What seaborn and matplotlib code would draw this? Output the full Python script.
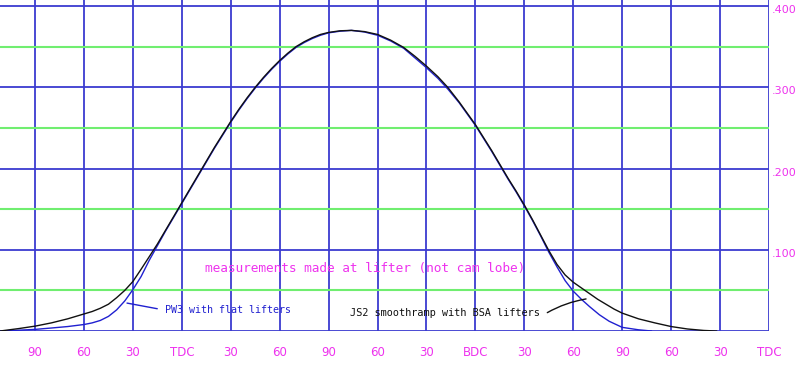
import matplotlib
matplotlib.use("Agg")
import matplotlib.pyplot as plt
import matplotlib.transforms as mtransforms
import seaborn as sns
import pandas as pd

# crank degrees (0 = first TDC) and lift in inches
js2_deg = [-111.5, -100, -90, -80, -70, -60, -55, -50, -45, -40, -35, -30, -25, -19.5,
           -15, -10, -5, 0, 5, 10, 15, 20, 25, 30, 35, 40, 45, 50, 55, 60, 65, 70, 75,
           80, 85, 90, 97, 104, 112, 120, 128, 136, 143, 150, 157, 163, 170, 180, 190,
           200, 205, 210, 215, 220, 225, 230, 235, 240, 245, 250, 255, 260, 265, 270,
           280, 290, 300, 310, 320, 328]
js2_lift = [0.000, 0.003, 0.006, 0.010, 0.015, 0.021, 0.024, 0.028, 0.033, 0.041, 0.050,
            0.061, 0.076, 0.093, 0.107, 0.124, 0.141, 0.158, 0.175, 0.192, 0.209, 0.226,
            0.242, 0.258, 0.273, 0.287, 0.300, 0.312, 0.323, 0.333, 0.342, 0.350, 0.356,
            0.361, 0.365, 0.3675, 0.3695, 0.370, 0.3685, 0.365, 0.358, 0.349, 0.338,
            0.326, 0.313, 0.300, 0.282, 0.254, 0.222, 0.188, 0.172, 0.155, 0.137, 0.118,
            0.099, 0.082, 0.069, 0.060, 0.053, 0.046, 0.039, 0.033, 0.027, 0.022, 0.015,
            0.010, 0.0055, 0.0025, 0.0007, 0.000]

pw3_deg = [-111.5, -100, -90, -80, -70, -60, -55, -50, -45, -40, -35, -30, -25, -20,
           -15, -10, -5, 0, 5, 10, 15, 20, 25, 30, 35, 40, 45, 50, 55, 60, 65, 70, 75,
           80, 85, 90, 97, 104, 112, 120, 128, 136, 143, 150, 157, 163, 170, 180, 190,
           200, 205, 210, 215, 220, 225, 230, 235, 240, 245, 250, 256, 262, 270, 280, 288]
pw3_lift = [0.000, 0.001, 0.002, 0.0037, 0.0055, 0.008, 0.010, 0.013, 0.018, 0.026, 0.037,
            0.051, 0.067, 0.087, 0.105, 0.123, 0.140, 0.157, 0.174, 0.191, 0.208, 0.225,
            0.241, 0.257, 0.272, 0.286, 0.299, 0.311, 0.322, 0.332, 0.341, 0.349, 0.355,
            0.360, 0.364, 0.367, 0.369, 0.370, 0.368, 0.364, 0.357, 0.348, 0.336,
            0.324, 0.311, 0.298, 0.281, 0.253, 0.221, 0.187, 0.171, 0.154, 0.136, 0.117,
            0.097, 0.079, 0.062, 0.049, 0.039, 0.030, 0.020, 0.012, 0.0045, 0.0015, 0.000]

x_ticks = [-90, -60, -30, 0, 30, 60, 90, 120, 150, 180, 210, 240, 270, 300, 330, 360]
x_labels = ["90", "60", "30", "TDC", "30", "60", "90", "60", "30", "BDC",
            "30", "60", "90", "60", "30", "TDC"]
y_major = [0.0, 0.1, 0.2, 0.3, 0.4]
y_minor = [0.05, 0.15, 0.25, 0.35]
y_labels = ["", ".100", ".200", ".300", ".400"]

sns.set_style("white")
plt.rcParams["font.family"] = ["DejaVu Sans"]

MAG = "#ee33ee"
GRIDBLUE = "#3c3cd0"
GREEN = "#70ee70"
CURVEBLUE = "#2020d0"

fig = plt.figure(figsize=(8, 3.68), dpi=100)
ax = fig.add_axes([0, 0.1005, 0.96125, 0.8995])

for v in x_ticks:
    ax.axvline(v, color=GRIDBLUE, lw=1.3, zorder=1)
for h in y_major:
    ax.axhline(h, color=GRIDBLUE, lw=1.3, zorder=1)
for h in y_minor:
    ax.axhline(h, color=GREEN, lw=1.5, zorder=1)

df_js2 = pd.DataFrame({"deg": js2_deg, "lift": js2_lift})
df_pw3 = pd.DataFrame({"deg": pw3_deg, "lift": pw3_lift})
sns.lineplot(data=df_pw3, x="deg", y="lift", color=CURVEBLUE, lw=1.0, ax=ax, zorder=3,
             sort=False)
sns.lineplot(data=df_js2, x="deg", y="lift", color="#111111", lw=1.0, ax=ax, zorder=4,
             sort=False)

ax.set_xlim(-111.5, 360)
ax.set_ylim(0, 0.4074)
for s in ax.spines.values():
    s.set_visible(False)

ax.set_xticks(x_ticks)
ax.set_xticklabels(x_labels)
ax.tick_params(axis="x", length=0, pad=11, labelsize=8.5, labelcolor=MAG)
ax.yaxis.tick_right()
ax.set_yticks(y_major)
ax.set_yticklabels(y_labels)
ax.tick_params(axis="y", length=0, pad=2, labelsize=8, labelcolor=MAG)
offset = mtransforms.ScaledTranslation(0, -0.03, fig.dpi_scale_trans)
for lbl in ax.get_yticklabels():
    lbl.set_transform(lbl.get_transform() + offset)
ax.set_xlabel("")
ax.set_ylabel("")

mono = "DejaVu Sans Mono"
ax.text(14.1, 0.0765, "measurements made at lifter (not cam lobe)",
        color=MAG, fontsize=9.2, family=mono, ha="left", va="center", zorder=5)
ax.text(-10.3, 0.0258, "PW3 with flat lifters", color=CURVEBLUE, fontsize=7.2,
        family=mono, ha="left", va="center", zorder=5)
ax.annotate("", xy=(-35.3, 0.035), xytext=(-13.4, 0.0268),
            arrowprops=dict(arrowstyle="-", color=CURVEBLUE, lw=1.0), zorder=5)
ax.text(103.1, 0.0217, "JS2 smoothramp with BSA lifters", color="#111111", fontsize=7.4,
        family=mono, ha="left", va="center", zorder=5)
ax.annotate("", xy=(249.5, 0.0400), xytext=(222.6, 0.0209),
            arrowprops=dict(arrowstyle="-", color="#111111", lw=1.0,
                            connectionstyle="arc3,rad=-0.1"), zorder=5)

fig.savefig("out.png", dpi=100)
